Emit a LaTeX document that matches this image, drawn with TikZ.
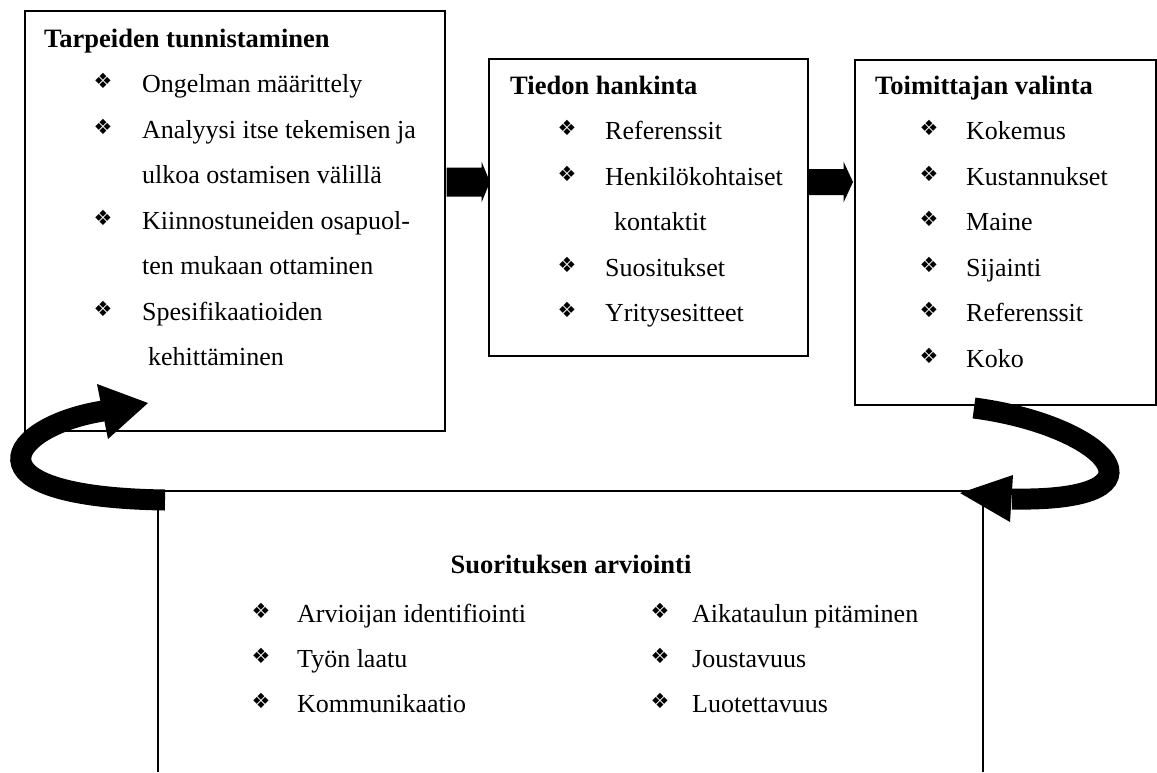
\documentclass[tikz,border=0pt]{standalone}
\usepackage{fontspec}
\setmainfont{Liberation Serif}
\newfontfamily\symfont{DejaVu Sans}
\usetikzlibrary{calc}
\begin{document}
\begin{tikzpicture}[x=1pt,y=-1pt,
  box/.style={draw, line width=1.5pt, inner sep=0pt, anchor=north west},
  txt/.style={anchor=base west, inner sep=0pt, font=\fontsize{26}{30}\selectfont},
  ttl/.style={anchor=base west, inner sep=0pt, font=\fontsize{26.5}{30}\selectfont\bfseries},
  bul/.style={anchor=center, inner sep=0pt, font=\symfont\fontsize{21}{24}\selectfont},
  band/.style={line width=21pt, line cap=butt, black}]
\useasboundingbox (0,0) rectangle (1157,772);
% boxes
\node[box, minimum width=420pt, minimum height=420pt] (b1) at (24,10) {};
\node[box, minimum width=319pt, minimum height=297pt] (b2) at (488,58) {};
\node[box, minimum width=301pt, minimum height=345pt] (b3) at (854,59) {};
\coordinate (b4bl) at (158,772);
\coordinate (b4tl) at (158,491);
\coordinate (b4tr) at (983,491);
\coordinate (b4br) at (983,772);
\draw[line width=1.5pt] (b4bl) -- (b4tl) -- (b4tr) -- (b4br);
% box 1 text
\node[ttl] (t1) at (44,47) {Tarpeiden tunnistaminen};
\node[bul] (p11) at (103,81) {❖};
\node[txt] (i11) at (142,92) {Ongelman määrittely};
\node[bul] (p12) at (103,127) {❖};
\node[txt] (i12) at (142,138) {Analyysi itse tekemisen ja};
\node[txt] (i12b) at (142,183) {ulkoa ostamisen välillä};
\node[bul] (p13) at (103,218) {❖};
\node[txt] (i13) at (142,229) {Kiinnostuneiden osapuol-};
\node[txt] (i13b) at (142,274) {ten mukaan ottaminen};
\node[bul] (p14) at (103,309) {❖};
\node[txt] (i14) at (142,320) {Spesifikaatioiden};
\node[txt] (i14b) at (148,365) {kehittäminen};
% box 2 text
\node[ttl] (t2) at (510,94) {Tiedon hankinta};
\node[bul] (p21) at (567,128) {❖};
\node[txt] (i21) at (605,139) {Referenssit};
\node[bul] (p22) at (567,174) {❖};
\node[txt] (i22) at (605,185) {Henkilökohtaiset};
\node[txt] (i22b) at (614,230) {kontaktit};
\node[bul] (p23) at (567,265) {❖};
\node[txt] (i23) at (605,276) {Suositukset};
\node[bul] (p24) at (567,310) {❖};
\node[txt] (i24) at (605,321) {Yritysesitteet};
% box 3 text
\node[ttl] (t3) at (875,94) {Toimittajan valinta};
\node[bul] (p31) at (929,128) {❖};
\node[txt] (i31) at (966,139) {Kokemus};
\node[bul] (p32) at (929,174) {❖};
\node[txt] (i32) at (966,185) {Kustannukset};
\node[bul] (p33) at (929,219) {❖};
\node[txt] (i33) at (966,230) {Maine};
\node[bul] (p34) at (929,265) {❖};
\node[txt] (i34) at (966,276) {Sijainti};
\node[bul] (p35) at (929,310) {❖};
\node[txt] (i35) at (966,321) {Referenssit};
\node[bul] (p36) at (929,356) {❖};
\node[txt] (i36) at (966,367) {Koko};
% bottom text
\node[ttl, anchor=base] (t4) at (571,573) {Suorituksen arviointi};
\node[bul] (p41) at (261,611) {❖};
\node[txt] (i41) at (297,622) {Arvioijan identifiointi};
\node[bul] (p42) at (261,656) {❖};
\node[txt] (i42) at (297,667) {Työn laatu};
\node[bul] (p43) at (261,701) {❖};
\node[txt] (i43) at (297,712) {Kommunikaatio};
\node[bul] (p44) at (660,611) {❖};
\node[txt] (i44) at (692,622) {Aikataulun pitäminen};
\node[bul] (p45) at (660,656) {❖};
\node[txt] (i45) at (692,667) {Joustavuus};
\node[bul] (p46) at (660,701) {❖};
\node[txt] (i46) at (692,712) {Luotettavuus};
% straight arrows
\coordinate (a1s) at ($(b1.north east)+(1,172)$);
\coordinate (a1e) at ($(b2.north west)+(2,124)$);
\fill ($(a1s)+(0,-14.5)$) -- ($(a1s)+(35,-14.5)$) -- ($(a1s)+(35,-20.5)$) -- (a1e)
  -- ($(a1s)+(35,20.5)$) -- ($(a1s)+(35,14.5)$) -- ($(a1s)+(0,14.5)$) -- cycle;
\coordinate (a2s) at ($(b2.north east)+(0,124)$);
\coordinate (a2e) at ($(b3.north west)+(-1,123)$);
\fill ($(a2s)+(0,-13)$) -- ($(a2s)+(35,-13)$) -- ($(a2s)+(35,-20.5)$) -- (a2e)
  -- ($(a2s)+(35,20.5)$) -- ($(a2s)+(35,13)$) -- ($(a2s)+(0,13)$) -- cycle;
% curved arrow left
\coordinate (lt) at (165,500);
\coordinate (lh) at (103,411);
\coordinate (ltip) at (148,403);
\draw[band] (lt) .. controls (-42,497) and (8,426) .. (lh);
\fill (97,384) -- (ltip) -- (108,439) -- cycle;
% curved arrow right
\coordinate (rt) at (974,408);
\coordinate (rh) at (1012,499);
\coordinate (rtip) at (960,493);
\draw[band] (rt) .. controls (1105,425) and (1180,502) .. (rh);
\fill (1013,475) -- (rtip) -- (1010,522) -- cycle;
\end{tikzpicture}
\end{document}
